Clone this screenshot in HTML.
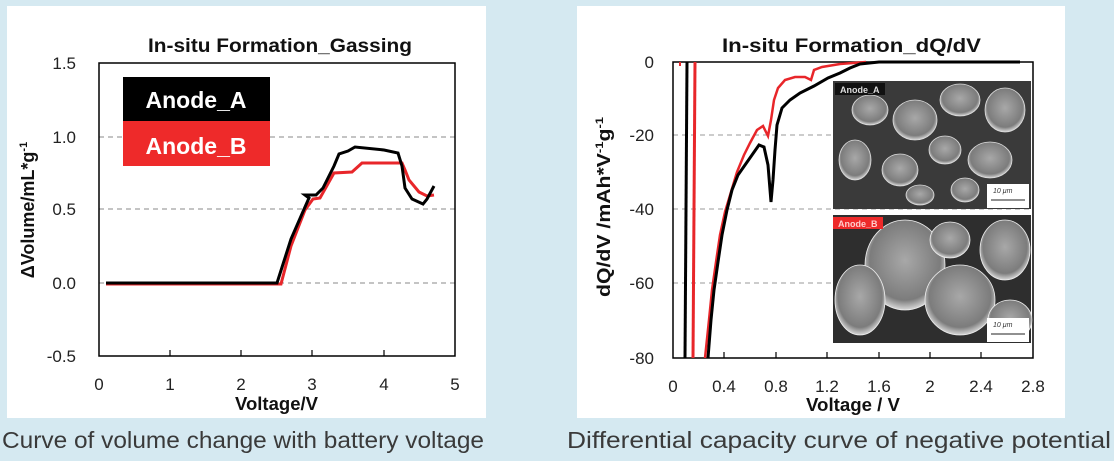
<!DOCTYPE html>
<html><head><meta charset="utf-8"><style>
html,body{margin:0;padding:0;width:1114px;height:461px;background:#d5e9f1;overflow:hidden}
svg{position:absolute;left:0;top:0}
text{font-family:"Liberation Sans",sans-serif}
</style></head><body>
<svg width="1114" height="461" viewBox="0 0 1114 461">
<defs>
<radialGradient id="p" cx="50%" cy="45%" r="55%"><stop offset="0" stop-color="#a8a8a8"/><stop offset="0.8" stop-color="#7c7c7c"/><stop offset="1" stop-color="#d8d8d8"/></radialGradient>
</defs>
<!-- left panel -->
<rect x="7" y="6" width="479" height="412" fill="#fff"/>
<text x="148" y="52" font-size="19" font-weight="bold" fill="#111" textLength="264" lengthAdjust="spacingAndGlyphs">In-situ Formation_Gassing</text>
<g stroke="#888" stroke-dasharray="5,4" stroke-width="1">
<line x1="99" y1="137" x2="455" y2="137"/><line x1="99" y1="209" x2="455" y2="209"/><line x1="99" y1="283" x2="455" y2="283"/></g>
<rect x="99" y="63" width="356" height="293" fill="none" stroke="#000" stroke-width="1.5"/>
<g stroke="#000" stroke-width="1.2"><line x1="170" y1="356" x2="170" y2="350"/><line x1="241" y1="356" x2="241" y2="350"/><line x1="312" y1="356" x2="312" y2="350"/><line x1="384" y1="356" x2="384" y2="350"/></g>
<g font-size="17" fill="#222" text-anchor="end"><text x="76" y="69">1.5</text><text x="76" y="143">1.0</text><text x="76" y="215">0.5</text><text x="76" y="289">0.0</text><text x="76" y="362">-0.5</text></g>
<g font-size="17" fill="#222" text-anchor="middle"><text x="99" y="390">0</text><text x="170" y="390">1</text><text x="241" y="390">2</text><text x="312" y="390">3</text><text x="384" y="390">4</text><text x="455" y="390">5</text></g>
<text x="235" y="410" font-size="18" font-weight="bold" fill="#111" textLength="83" lengthAdjust="spacingAndGlyphs">Voltage/V</text>
<text transform="translate(34,210) rotate(-90)" font-size="18" font-weight="bold" text-anchor="middle" fill="#111">ΔVolume/mL*g<tspan font-size="11" dy="-7">-1</tspan></text>
<polyline fill="none" stroke="#e8262a" stroke-width="3" points="106,284 281,284 291,246 305,210 313,199 320,198 334,173 352,172 362,163 402,163 405,170 409,180 419,192 427,196 434,195"/>
<polyline fill="none" stroke="#000" stroke-width="3" points="106,283 277,283 284,261 291,239 305,207 309,198 305,195 316,195 323,188 334,166 339,154 348,151 355,147 384,150 398,153 402,166 405,188 412,199 423,204 427,199 434,186"/>
<rect x="123" y="77" width="147" height="44" fill="#000"/>
<rect x="123" y="121" width="147" height="45" fill="#ee2a2a"/>
<text x="196" y="108" font-size="23" font-weight="bold" fill="#fff" text-anchor="middle">Anode_A</text>
<text x="196" y="154" font-size="23" font-weight="bold" fill="#fff" text-anchor="middle">Anode_B</text>
<text x="2" y="448" font-size="23" fill="#3a3a3a" textLength="482" lengthAdjust="spacingAndGlyphs">Curve of volume change with battery voltage</text>

<!-- right panel -->
<rect x="577" y="6" width="488" height="412" fill="#fff"/>
<text x="722" y="52" font-size="19" font-weight="bold" fill="#111" textLength="259" lengthAdjust="spacingAndGlyphs">In-situ Formation_dQ/dV</text>
<g stroke="#999" stroke-dasharray="5,4" stroke-width="1">
<line x1="673" y1="135" x2="1033" y2="135"/><line x1="673" y1="209" x2="1033" y2="209"/><line x1="673" y1="283" x2="1033" y2="283"/></g>
<rect x="673" y="62" width="360" height="296" fill="none" stroke="#000" stroke-width="1.5"/>
<g stroke="#000" stroke-width="1.2"><line x1="724" y1="358" x2="724" y2="352"/><line x1="776" y1="358" x2="776" y2="352"/><line x1="827" y1="358" x2="827" y2="352"/><line x1="879" y1="358" x2="879" y2="352"/><line x1="930" y1="358" x2="930" y2="352"/><line x1="981" y1="358" x2="981" y2="352"/></g>
<g font-size="17" fill="#222" text-anchor="end"><text x="654" y="68">0</text><text x="654" y="141">-20</text><text x="654" y="215">-40</text><text x="654" y="289">-60</text><text x="654" y="364">-80</text></g>
<g font-size="17" fill="#222" text-anchor="middle"><text x="673" y="392">0</text><text x="724" y="392">0.4</text><text x="776" y="392">0.8</text><text x="827" y="392">1.2</text><text x="879" y="392">1.6</text><text x="930" y="392">2</text><text x="981" y="392">2.4</text><text x="1033" y="392">2.8</text></g>
<text x="806" y="411" font-size="18" font-weight="bold" fill="#111" textLength="94" lengthAdjust="spacingAndGlyphs">Voltage / V</text>
<text transform="translate(610,207) rotate(-90)" font-size="18" font-weight="bold" text-anchor="middle" fill="#111" textLength="180" lengthAdjust="spacingAndGlyphs">dQ/dV  /mAh*V<tspan font-size="11" dy="-7">-1</tspan><tspan dy="7">g</tspan><tspan font-size="11" dy="-7">-1</tspan></text>
<line x1="680" y1="62" x2="680" y2="66" stroke="#e8262a" stroke-width="2"/>
<line x1="687" y1="62" x2="685" y2="358" stroke="#000" stroke-width="3"/>
<line x1="695" y1="62" x2="693" y2="358" stroke="#e8262a" stroke-width="3"/>
<polyline fill="none" stroke="#e8262a" stroke-width="2.5" points="705,358 709,320 712,290 716,262 720,235 725,212 731,192 737,172 744,155 750,143 757,130 763,126 768,136 771,120 774,100 778,88 785,80 795,77 805,77 811,80 814,70 822,67 840,64 866,62"/>
<polyline fill="none" stroke="#000" stroke-width="3" points="708,358 711,320 714,290 718,262 722,235 727,210 732,190 738,175 745,165 752,155 759,145 764,147 768,165 771,202 773,180 775,150 777,125 782,108 790,100 800,93 814,86 828,78 840,73 850,68 860,64 879,62 1020,62"/>
<!-- SEM images -->
<g>
<rect x="833" y="81" width="198" height="128" fill="#3a3a3a"/>
<g fill="url(#p)" stroke="#ddd" stroke-width="0.8">
<ellipse cx="870" cy="110" rx="18" ry="15"/><ellipse cx="915" cy="120" rx="22" ry="20"/><ellipse cx="960" cy="100" rx="20" ry="16"/><ellipse cx="1005" cy="110" rx="20" ry="22"/>
<ellipse cx="855" cy="160" rx="16" ry="20"/><ellipse cx="900" cy="170" rx="18" ry="16"/><ellipse cx="945" cy="150" rx="16" ry="14"/><ellipse cx="990" cy="160" rx="22" ry="18"/><ellipse cx="920" cy="195" rx="14" ry="10"/><ellipse cx="965" cy="190" rx="14" ry="12"/>
</g>
<rect x="835" y="83" width="50" height="12" fill="#111"/>
<text x="840" y="93" font-size="9" font-weight="bold" fill="#ddd">Anode_A</text>
<rect x="987" y="184" width="42" height="24" fill="#fff"/>
<text x="993" y="193" font-size="7" font-style="italic" fill="#333">10 μm</text>
<line x1="991" y1="200" x2="1025" y2="200" stroke="#222" stroke-width="1"/>
<rect x="833" y="215" width="198" height="128" fill="#2e2e2e"/>
<g fill="url(#p)" stroke="#eee" stroke-width="0.8">
<ellipse cx="905" cy="265" rx="40" ry="45"/><ellipse cx="860" cy="300" rx="25" ry="35"/><ellipse cx="960" cy="300" rx="35" ry="35"/><ellipse cx="1005" cy="250" rx="25" ry="30"/><ellipse cx="950" cy="240" rx="20" ry="18"/><ellipse cx="1010" cy="320" rx="22" ry="20"/>
</g>
<rect x="833" y="217" width="50" height="12" fill="#ee2a2a"/>
<text x="838" y="227" font-size="9" font-weight="bold" fill="#fcc">Anode_B</text>
<rect x="987" y="318" width="42" height="24" fill="#fff"/>
<text x="993" y="327" font-size="7" font-style="italic" fill="#333">10 μm</text>
<line x1="991" y1="334" x2="1025" y2="334" stroke="#222" stroke-width="1"/>
</g>
<text x="567" y="448" font-size="23" fill="#3a3a3a" textLength="544" lengthAdjust="spacingAndGlyphs">Differential capacity curve of negative potential</text>
</svg>
</body></html>
